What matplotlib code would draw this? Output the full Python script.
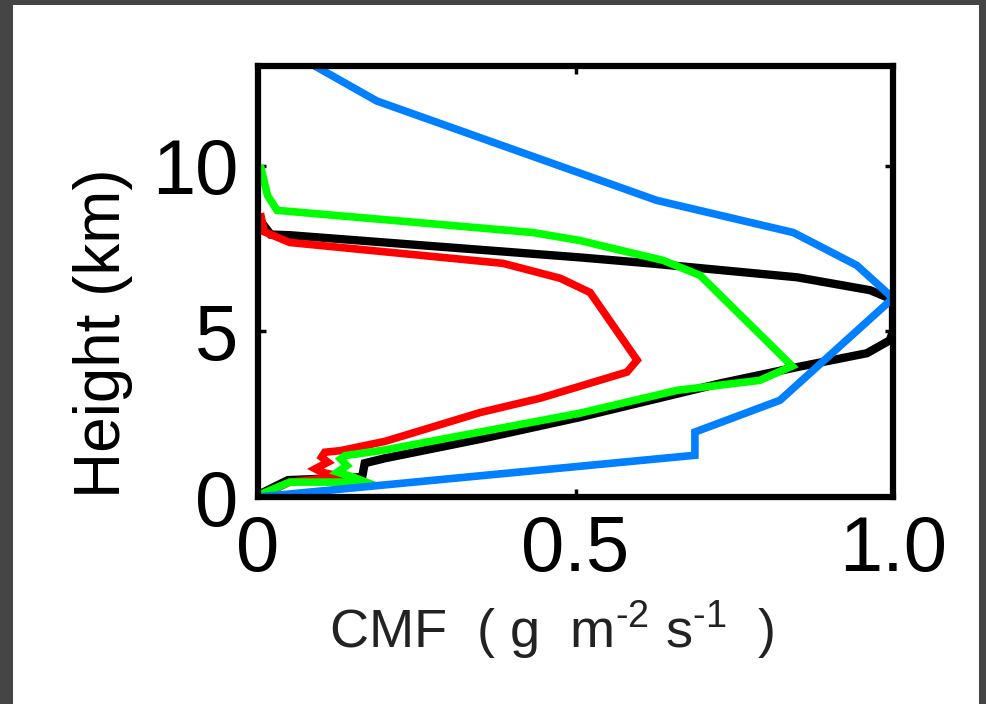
import matplotlib.pyplot as plt
from matplotlib.patches import Rectangle

# CMF (normalised) against height
black_cmf = [0.0, 0.006, 0.047, 0.164, 0.168, 0.2, 0.35, 0.507, 0.728, 0.849, 0.959, 0.995, 1.0,
             1.0, 0.964, 0.849, 0.617, 0.507, 0.05, 0.02, 0.005]
black_hgt = [0.0, 0.12, 0.51, 0.6, 1.02, 1.17, 1.75, 2.41, 3.43, 3.92, 4.34, 4.73, 5.0,
             5.95, 6.24, 6.63, 7.05, 7.23, 7.9, 7.92, 8.3]

red_cmf = [0.0, 0.05, 0.13, 0.1, 0.09, 0.11, 0.1, 0.105, 0.13, 0.2, 0.35, 0.444, 0.581,
           0.597, 0.523, 0.476, 0.386, 0.05, 0.01, 0.005]
red_hgt = [0.0, 0.45, 0.62, 0.75, 0.85, 1.05, 1.2, 1.35, 1.4, 1.68, 2.55, 2.98, 3.77,
           4.13, 6.17, 6.6, 7.05, 7.68, 8.0, 8.45]

green_cmf = [0.0, 0.05, 0.17, 0.15, 0.125, 0.14, 0.13, 0.137, 0.2, 0.507, 0.66, 0.79, 0.841,
             0.811, 0.696, 0.638, 0.559, 0.507, 0.433, 0.03, 0.015, 0.005]
green_hgt = [0.05, 0.45, 0.45, 0.6, 0.75, 0.95, 1.15, 1.25, 1.42, 2.53, 3.22, 3.52, 3.95,
             4.52, 6.69, 7.14, 7.5, 7.74, 7.98, 8.65, 9.1, 9.9]

blue_cmf = [0.0, 0.688, 0.688, 0.822, 1.0, 0.943, 0.843, 0.628, 0.187, 0.09]
blue_hgt = [0.0, 1.26, 1.96, 2.92, 6.0, 6.99, 7.98, 8.95, 11.95, 13.0]

xticks = [0, 0.5, 1.0]
xtick_labels = ["0", "0.5", "1.0"]
yticks = [0, 5, 10]

plt.rcParams['font.family'] = ['Liberation Sans', 'DejaVu Sans']
plt.rcParams['mathtext.fontset'] = 'custom'
plt.rcParams['mathtext.rm'] = 'Liberation Sans'
plt.rcParams['mathtext.default'] = 'regular'

fig = plt.figure(figsize=(9.86, 7.04), dpi=100, facecolor='#454545')
# white slide panel inside the dark frame
fig.add_artist(Rectangle((13 / 986, 0), 966 / 986, 1 - 5 / 704,
                         transform=fig.transFigure, facecolor='white', edgecolor='none', zorder=0))

ax = fig.add_axes([0.2617, 0.294, 0.644, 0.612])
ax.set_facecolor('white')

lw = 5.5
ax.plot(black_cmf, black_hgt, color='black', lw=lw + 0.5, solid_joinstyle='miter', zorder=2)
ax.plot(red_cmf, red_hgt, color='#ff0000', lw=lw, solid_joinstyle='miter', zorder=3)
ax.plot(green_cmf, green_hgt, color='#00ff00', lw=lw, solid_joinstyle='miter', zorder=4)
ax.plot(blue_cmf, blue_hgt, color='#0080ff', lw=lw, solid_joinstyle='miter', zorder=5)

ax.set_xlim(0, 1.0)
ax.set_ylim(0, 13)
ax.set_xticks(xticks)
ax.set_xticklabels(xtick_labels)
ax.set_yticks(yticks)
ax.tick_params(direction='in', length=6, width=2.5, labelsize=56, top=True, right=True,
               colors='black')
ax.tick_params(axis='y', pad=14)
ax.tick_params(axis='x', pad=12)
for s in ax.spines.values():
    s.set_linewidth(4.5)
    s.set_zorder(10)

fig.text(103 / 986, 1 - 333 / 704, "Height (km)", rotation=90, fontsize=46,
         ha='center', va='center')
fig.text(552 / 986, 1 - 648 / 704, r"CMF  ( g  m$^{\text{-2}}$ s$^{\text{-1}}$  )", fontsize=39,
         color='#222222', ha='center', va='baseline')

plt.savefig("out.png", dpi=100, facecolor=fig.get_facecolor())
